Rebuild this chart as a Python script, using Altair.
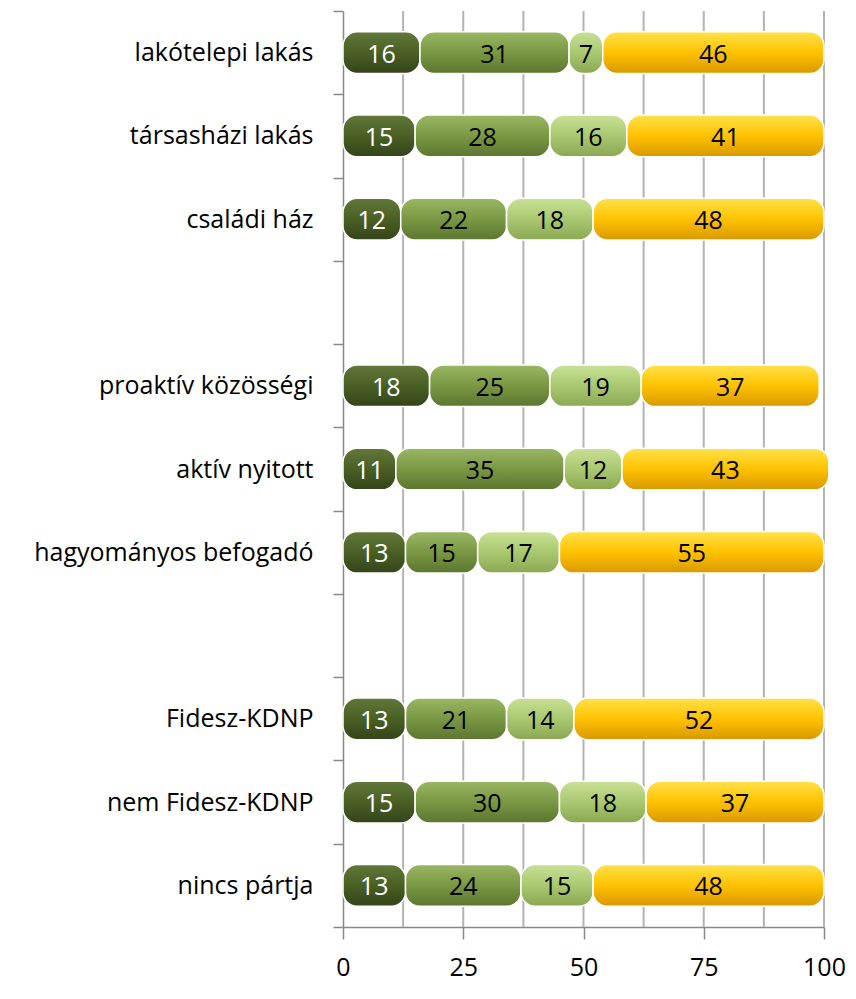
import altair as alt
import pandas as pd

CATEGORIES = ["lakótelepi lakás", "társasházi lakás", "családi ház", " ",
              "proaktív közösségi", "aktív nyitott", "hagyományos befogadó", "  ",
              "Fidesz-KDNP", "nem Fidesz-KDNP", "nincs pártja"]
ROWS = ["lakótelepi lakás", "társasházi lakás", "családi ház",
        "proaktív közösségi", "aktív nyitott", "hagyományos befogadó",
        "Fidesz-KDNP", "nem Fidesz-KDNP", "nincs pártja"]
SERIES = ["s1", "s2", "s3", "s4"]
S1 = [16, 15, 12, 18, 11, 13, 13, 15, 13]
S2 = [31, 28, 22, 25, 35, 15, 21, 30, 24]
S3 = [7, 16, 18, 19, 12, 17, 14, 18, 15]
S4 = [46, 41, 48, 37, 43, 55, 52, 37, 48]
X_TICKS = [0, 25, 50, 75, 100]
GRID_LINES = [12.5, 25, 37.5, 50, 62.5, 75, 87.5, 100]

GRADIENTS = {
    "s1": ["#62783a", "#4a5f24", "#33441a"],
    "s2": ["#9ab764", "#7a9843", "#5c7630"],
    "s3": ["#c9e196", "#a9c870", "#8aa852"],
    "s4": ["#ffe24a", "#ffc200", "#d99800"],
}
TEXT_COLORS = {"s1": "white", "s2": "black", "s3": "black", "s4": "black"}

records = []
for vals, s, o in zip([S1, S2, S3, S4], SERIES, range(4)):
    for r, v in zip(ROWS, vals):
        records.append({"row": r, "series": s, "order": o, "value": v})
df = pd.DataFrame(records)

FONT = "Open Sans"

base = alt.Chart(df).transform_stack(
    stack="value", groupby=["row"], as_=["x0", "x1"],
    sort=[alt.SortField("order", order="ascending")]
).transform_calculate(mid="(datum.x0 + datum.x1) / 2")

xscale = alt.Scale(domain=[0, 100], nice=False)
yscale = alt.Scale(domain=CATEGORIES, paddingInner=0, paddingOuter=0)

xaxis = alt.Axis(values=X_TICKS, grid=False, title=None,
                 labelFontSize=25, labelFont=FONT, labelColor="black",
                 tickSize=12, tickColor="#888888", tickWidth=1.5,
                 domainColor="#888888", domainWidth=1.5,
                 labelPadding=16, labelFlush=False)
yaxis = alt.Axis(title=None, tickBand="extent", labelFontSize=25,
                 labelFont=FONT, labelColor="black", labelPadding=20,
                 tickSize=10, tickColor="#888888", tickWidth=1.5,
                 domainColor="#888888", domainWidth=1.5,
                 labelLimit=400)

grid = alt.Chart(pd.DataFrame({"g": GRID_LINES})).mark_rule(
    color="#b3b3b3", strokeWidth=2
).encode(x=alt.X("g:Q", scale=xscale, axis=xaxis))

layers = [grid]
for s in SERIES:
    c = GRADIENTS[s]
    grad = alt.Gradient(
        gradient="linear",
        stops=[alt.GradientStop(color=c[0], offset=0),
               alt.GradientStop(color=c[1], offset=0.5),
               alt.GradientStop(color=c[2], offset=1)],
        x1=0, x2=0, y1=0, y2=1,
    )
    bar = base.transform_filter(alt.datum.series == s).mark_bar(
        color=grad, cornerRadius=14, stroke="white", strokeWidth=1.5,
        height=alt.RelativeBandSize(0.5),
    ).encode(
        x=alt.X("x0:Q", scale=xscale, axis=xaxis),
        x2="x1:Q",
        y=alt.Y("row:N", scale=yscale, axis=yaxis),
    )
    txt = base.transform_filter(alt.datum.series == s).mark_text(
        fontSize=25, font=FONT, color=TEXT_COLORS[s], align="center",
        baseline="middle", dy=2,
    ).encode(
        x=alt.X("mid:Q", scale=xscale),
        y=alt.Y("row:N", scale=yscale),
        text="value:Q",
    )
    layers += [bar, txt]

chart = alt.layer(*layers).properties(
    width=481, height=916,
    autosize=alt.AutoSizeParams(type="none"),
    padding={"left": 335, "top": 3, "right": 24, "bottom": 63},
).configure_view(stroke=None)

chart.save("out.html", embed_options={"renderer": "svg", "actions": False})
